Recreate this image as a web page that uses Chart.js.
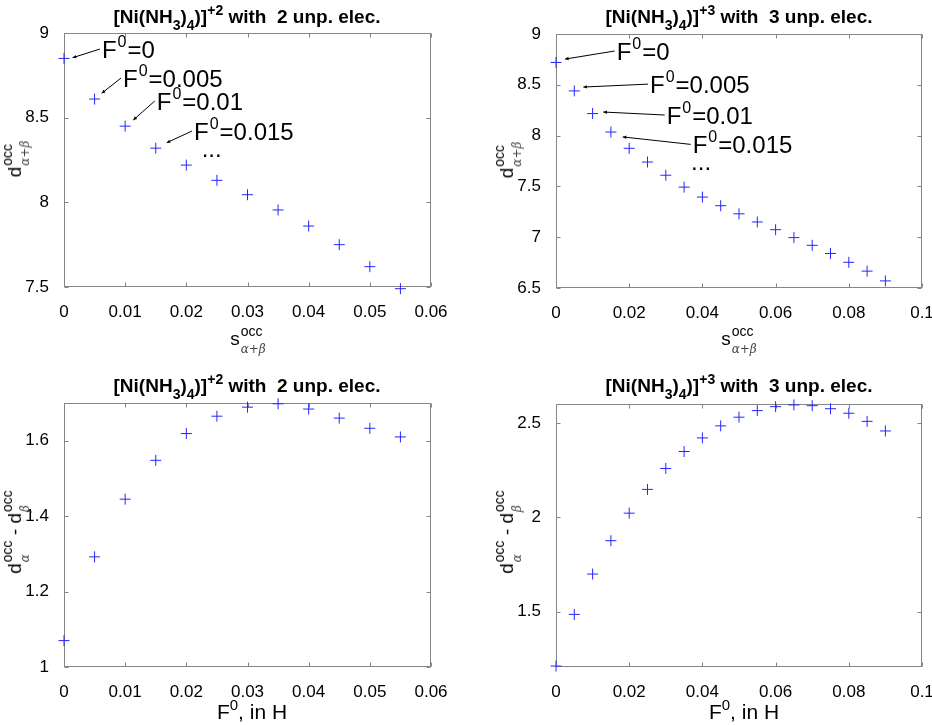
<!DOCTYPE html>
<html>
<head>
<meta charset="utf-8">
<script src="https://cdn.jsdelivr.net/npm/chart.js@4.4.1/dist/chart.umd.min.js"></script>
<style>
    html, body { margin: 0; padding: 0; background: #fff; }
    body { width: 932px; height: 725px; position: relative; overflow: hidden; font-family: "Liberation Sans", Arial, sans-serif; color: #000; }
    canvas { position: absolute; }
    .title { position: absolute; transform: translate(-50%, -50%); font-weight: bold; font-size: 19px; white-space: nowrap; }
    .title sub, .title sup { font-size: 14px; line-height: 0; }
    .title sub { vertical-align: -7px; }
    .title sup { vertical-align: 8px; }
    .lbl { position: absolute; transform: translate(-50%, -50%); font-size: 19px; white-space: nowrap; line-height: 1; }
    .lbl.rot { transform: translate(-50%, -50%) rotate(-90deg); }
    .ss { display: inline-flex; flex-direction: column; font-size: 14px; line-height: 18px; vertical-align: 9px; margin-left: 1px; }
    .ss .sb { font-style: italic; font-family: "DejaVu Serif", serif; font-size: 12px; color: #444; }
    .sp { font-size: 15px; vertical-align: 9px; line-height: 0; }
    .big { font-size: 21px; }
</style>
</head>
<body>
<canvas id="c-tot-ni2" width="466" height="362" style="left:0;top:0"></canvas>
<canvas id="c-tot-ni3" width="466" height="362" style="left:466px;top:0"></canvas>
<canvas id="c-spin-ni2" width="466" height="363" style="left:0;top:362px"></canvas>
<canvas id="c-spin-ni3" width="466" height="363" style="left:466px;top:362px"></canvas>

<div class="title" style="left:247px;top:17px">[Ni(NH<sub>3</sub>)<sub>4</sub>)]<sup>+2</sup> with&nbsp; 2 unp. elec.</div>
<div class="title" style="left:739px;top:17px">[Ni(NH<sub>3</sub>)<sub>4</sub>)]<sup>+3</sup> with&nbsp; 3 unp. elec.</div>
<div class="title" style="left:247px;top:386px">[Ni(NH<sub>3</sub>)<sub>4</sub>)]<sup>+2</sup> with&nbsp; 2 unp. elec.</div>
<div class="title" style="left:739px;top:386px">[Ni(NH<sub>3</sub>)<sub>4</sub>)]<sup>+3</sup> with&nbsp; 3 unp. elec.</div>

<div class="lbl rot" style="left:16px;top:159px">d<span class="ss"><span>occ</span><span class="sb">α+β</span></span></div>
<div class="lbl rot" style="left:508px;top:160px">d<span class="ss"><span>occ</span><span class="sb">α+β</span></span></div>
<div class="lbl rot" style="left:16px;top:532px">d<span class="ss"><span>occ</span><span class="sb">α</span></span> - d<span class="ss"><span>occ</span><span class="sb">β</span></span></div>
<div class="lbl rot" style="left:508px;top:532px">d<span class="ss"><span>occ</span><span class="sb">α</span></span> - d<span class="ss"><span>occ</span><span class="sb">β</span></span></div>

<div class="lbl" style="left:248px;top:340px">s<span class="ss"><span>occ</span><span class="sb">α+β</span></span></div>
<div class="lbl" style="left:739px;top:340px">s<span class="ss"><span>occ</span><span class="sb">α+β</span></span></div>
<div class="lbl big" style="left:252px;top:711px">F<span class="sp">0</span>, in H</div>
<div class="lbl big" style="left:744px;top:711px">F<span class="sp">0</span>, in H</div>

<script>
// F0 values (in H) for each complex
const F0_NI2 = [ 0, 0.005, 0.01, 0.015, 0.02, 0.025, 0.03, 0.035, 0.04, 0.045, 0.05, 0.055 ];
const F0_NI3 = [ 0, 0.005, 0.01, 0.015, 0.02, 0.025, 0.03, 0.035, 0.04, 0.045, 0.05, 0.055, 0.06, 0.065, 0.07, 0.075, 0.08, 0.085, 0.09 ];

// d_occ(alpha+beta)
const D_TOT_NI2 = [ 8.85, 8.61, 8.45, 8.32, 8.22, 8.13, 8.045, 7.955, 7.86, 7.75, 7.62, 7.49 ];
const D_TOT_NI3 = [ 8.72, 8.44, 8.217, 8.035, 7.875, 7.74, 7.61, 7.493, 7.395, 7.31, 7.23, 7.15, 7.074, 6.996, 6.92, 6.84, 6.753, 6.666, 6.57 ];

// d_occ(alpha) - d_occ(beta)
const D_SPIN_NI2 = [ 1.07, 1.292, 1.445, 1.548, 1.619, 1.665, 1.689, 1.698, 1.684, 1.66, 1.633, 1.61 ];
const D_SPIN_NI3 = [ 1.212, 1.486, 1.70, 1.877, 2.023, 2.149, 2.26, 2.35, 2.422, 2.486, 2.532, 2.567, 2.588, 2.597, 2.593, 2.577, 2.553, 2.51, 2.459 ];

// tick labels
const X_TICKS_NI2 = [ 0, 0.01, 0.02, 0.03, 0.04, 0.05, 0.06 ];
const X_TICKS_NI3 = [ 0, 0.02, 0.04, 0.06, 0.08, 0.1 ];
const Y_TICKS_TOT_NI2 = [ 7.5, 8, 8.5, 9 ];
const Y_TICKS_TOT_NI3 = [ 6.5, 7, 7.5, 8, 8.5, 9 ];
const Y_TICKS_SPIN_NI2 = [ 1, 1.2, 1.4, 1.6 ];
const Y_TICKS_SPIN_NI3 = [ 1.5, 2, 2.5 ];

// F0 labels on the top plots
const LABEL_VALUES = [ '0', '0.005', '0.01', '0.015' ];

const FONT = '"Liberation Sans", Arial, sans-serif';
const MARKER = '#2626ff';
const AXIS = '#858585';

// frame + MATLAB style inward ticks on all four sides
const framePlugin = {
    id: 'frame',
    beforeDatasetsDraw( chart ) {
        const { ctx, chartArea: a, scales } = chart;
        const L = Math.round( a.left ) + 0.5, R = Math.round( a.right ) - 0.5;
        const T = Math.round( a.top ) + 0.5, B = Math.round( a.bottom ) - 0.5;
        ctx.save();
        ctx.strokeStyle = AXIS;
        ctx.lineWidth = 1;
        ctx.strokeRect( L, T, R - L, B - T );
        ctx.beginPath();
        scales.x.ticks.forEach( ( t ) => {
            const x = Math.round( scales.x.getPixelForValue( t.value ) ) + 0.5;
            ctx.moveTo( x, B ); ctx.lineTo( x, B - 4 );
            ctx.moveTo( x, T ); ctx.lineTo( x, T + 4 );
        } );
        scales.y.ticks.forEach( ( t ) => {
            const y = Math.round( scales.y.getPixelForValue( t.value ) ) + 0.5;
            ctx.moveTo( L, y ); ctx.lineTo( L + 4, y );
            ctx.moveTo( R, y ); ctx.lineTo( R - 4, y );
        } );
        ctx.stroke();
        ctx.restore();
    },
};

// "F0=..." text with arrows pointing at the first points
const notePlugin = {
    id: 'notes',
    afterDatasetsDraw( chart, args, opts ) {
        if ( ! opts.items ) return;
        const { ctx, scales } = chart;
        ctx.save();
        ctx.fillStyle = '#000';
        ctx.strokeStyle = '#000';
        ctx.textBaseline = 'alphabetic';
        opts.items.forEach( ( n, i ) => {
            const tx = scales.x.getPixelForValue( n.text[ 0 ] );
            const ty = scales.y.getPixelForValue( n.text[ 1 ] );
            const hx = scales.x.getPixelForValue( n.head[ 0 ] );
            const hy = scales.y.getPixelForValue( n.head[ 1 ] );
            const sx = tx - 2, sy = ty - 9;
            ctx.lineWidth = 1;
            ctx.beginPath();
            ctx.moveTo( sx, sy );
            ctx.lineTo( hx, hy );
            ctx.stroke();
            const ang = Math.atan2( hy - sy, hx - sx );
            ctx.beginPath();
            ctx.moveTo( hx, hy );
            ctx.lineTo( hx - 4 * Math.cos( ang - 0.45 ), hy - 4 * Math.sin( ang - 0.45 ) );
            ctx.lineTo( hx - 4 * Math.cos( ang + 0.45 ), hy - 4 * Math.sin( ang + 0.45 ) );
            ctx.closePath();
            ctx.fill();

            ctx.font = '24px ' + FONT;
            ctx.fillText( 'F', tx, ty );
            let x = tx + ctx.measureText( 'F' ).width + 1;
            ctx.font = '16px ' + FONT;
            ctx.fillText( '0', x, ty - 11 );
            x += ctx.measureText( '0' ).width + 1;
            ctx.font = '24px ' + FONT;
            ctx.fillText( '=' + LABEL_VALUES[ i ], x, ty );
        } );
        if ( opts.dots ) {
            ctx.font = '24px ' + FONT;
            ctx.fillText( '...', scales.x.getPixelForValue( opts.dots[ 0 ] ), scales.y.getPixelForValue( opts.dots[ 1 ] ) );
        }
        ctx.restore();
    },
};

function makeChart( id, canvasBox, plotBox, xs, ys, xRange, yRange, xTicks, yTicks, notes ) {
    const [ cl, ct, cw, ch ] = canvasBox;
    const [ pl, pt, pr, pb ] = plotBox;
    const tickFont = { family: FONT, size: 17 };
    const fixTicks = ( list ) => ( scale ) => { scale.ticks = list.map( ( v ) => ( { value: v } ) ); };

    return new Chart( document.getElementById( id ), {
        type: 'scatter',
        data: {
            datasets: [ {
                data: xs.map( ( x, i ) => ( { x, y: ys[ i ] } ) ),
                pointStyle: 'cross',
                pointRadius: 5.5,
                borderColor: MARKER,
                backgroundColor: MARKER,
                pointBorderWidth: 1,
                clip: false,
            } ],
        },
        options: {
            responsive: false,
            animation: false,
            events: [],
            devicePixelRatio: 1,
            layout: { padding: { top: pt - ct, right: cl + cw - pr, left: 0, bottom: 0 } },
            plugins: {
                legend: { display: false },
                tooltip: { enabled: false },
                notes: notes || {},
            },
            scales: {
                x: {
                    type: 'linear',
                    min: xRange[ 0 ],
                    max: xRange[ 1 ],
                    grid: { display: false },
                    border: { display: false },
                    afterBuildTicks: fixTicks( xTicks ),
                    afterFit: ( s ) => { s.height = ct + ch - pb; s.paddingLeft = 0; s.paddingRight = 0; },
                    ticks: { font: tickFont, color: '#000', padding: 7, maxRotation: 0, autoSkip: false, callback: ( v ) => String( v ) },
                },
                y: {
                    type: 'linear',
                    min: yRange[ 0 ],
                    max: yRange[ 1 ],
                    grid: { display: false },
                    border: { display: false },
                    afterBuildTicks: fixTicks( yTicks ),
                    afterFit: ( s ) => { s.width = pl - cl; s.paddingTop = 0; s.paddingBottom = 0; },
                    ticks: { font: tickFont, color: '#000', padding: 7, autoSkip: false, callback: ( v ) => String( v ) },
                },
            },
        },
        plugins: [ framePlugin, notePlugin ],
    } );
}

makeChart( 'c-tot-ni2', [ 0, 0, 466, 362 ], [ 64, 33, 431, 287 ], F0_NI2, D_TOT_NI2,
    [ 0, 0.06 ], [ 7.5, 9 ], X_TICKS_NI2, Y_TICKS_TOT_NI2, {
        items: [
            { text: [ 0.0062, 8.852 ], head: [ 0.0014, 8.854 ] },
            { text: [ 0.00965, 8.681 ], head: [ 0.00616, 8.644 ] },
            { text: [ 0.01516, 8.545 ], head: [ 0.01133, 8.486 ] },
            { text: [ 0.02126, 8.368 ], head: [ 0.01679, 8.352 ] },
        ],
        dots: [ 0.0225, 8.27 ],
    } );

makeChart( 'c-tot-ni3', [ 466, 0, 466, 362 ], [ 556, 34, 922, 288 ], F0_NI3, D_TOT_NI3,
    [ 0, 0.1 ], [ 6.5, 9 ], X_TICKS_NI3, Y_TICKS_TOT_NI3, {
        items: [
            { text: [ 0.01658, 8.744 ], head: [ 0.00246, 8.753 ] },
            { text: [ 0.02568, 8.418 ], head: [ 0.00746, 8.478 ] },
            { text: [ 0.03024, 8.114 ], head: [ 0.01292, 8.232 ] },
            { text: [ 0.03735, 7.825 ], head: [ 0.01823, 7.987 ] },
        ],
        dots: [ 0.0369, 7.66 ],
    } );

makeChart( 'c-spin-ni2', [ 0, 362, 466, 363 ], [ 64, 403, 431, 667 ], F0_NI2, D_SPIN_NI2,
    [ 0, 0.06 ], [ 1, 1.7 ], X_TICKS_NI2, Y_TICKS_SPIN_NI2 );

makeChart( 'c-spin-ni3', [ 466, 362, 466, 363 ], [ 556, 404, 922, 667 ], F0_NI3, D_SPIN_NI3,
    [ 0, 0.1 ], [ 1.207, 2.602 ], X_TICKS_NI3, Y_TICKS_SPIN_NI3 );
</script>
</body>
</html>
